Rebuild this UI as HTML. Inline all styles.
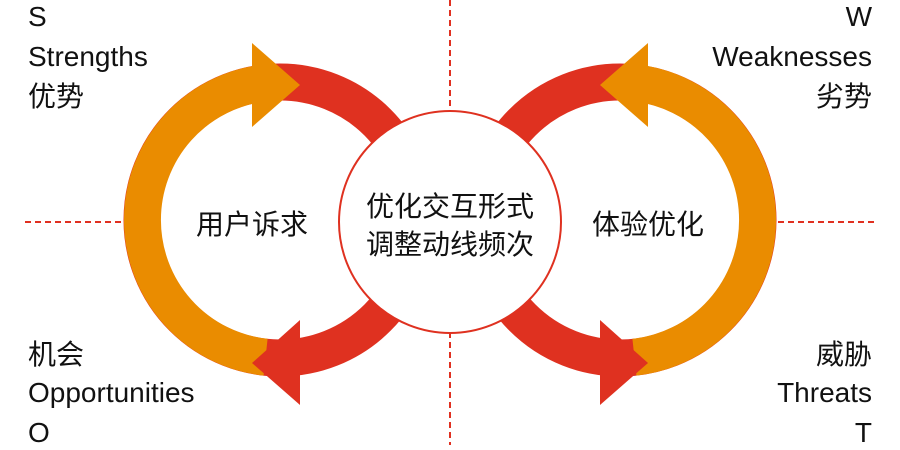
<!DOCTYPE html>
<html><head><meta charset="utf-8"><style>
body{margin:0;width:900px;height:445px;background:#fff;overflow:hidden}
svg text{font-family:"Liberation Sans","Noto Sans CJK SC",sans-serif;fill:#111}
</style></head><body>
<svg width="900" height="445" viewBox="0 0 900 445">
<g stroke="#e03020" stroke-width="2" stroke-dasharray="6,4">
<line x1="450" y1="0" x2="450" y2="112"/>
<line x1="450" y1="332" x2="450" y2="445"/>
<line x1="25" y1="222" x2="122" y2="222"/>
<line x1="778" y1="222" x2="875" y2="222"/>
</g>
<circle cx="280" cy="220" r="138" fill="none" stroke="#df3120" stroke-width="37"/>
<circle cx="620" cy="220" r="138" fill="none" stroke="#df3120" stroke-width="37"/>
<path d="M265.6 82.8 A138 138 0 0 0 265.6 357.2" fill="none" stroke="#ea8c00" stroke-width="37"/>
<path d="M634.4 82.8 A138 138 0 0 1 634.4 357.2" fill="none" stroke="#ea8c00" stroke-width="37"/>
<polygon points="252,43 300,85 252,127" fill="#ea8c00"/>
<polygon points="300,320 252,363 300,405" fill="#df3120"/>
<polygon points="648,43 600,85 648,127" fill="#ea8c00"/>
<polygon points="600,320 648,363 600,405" fill="#df3120"/>
<circle cx="450" cy="222" r="111" fill="#fff" stroke="#df3120" stroke-width="2"/>
<g font-size="28">
<text x="28" y="26">S</text>
<text x="28" y="66">Strengths</text>
<text x="28" y="106">优势</text>
<text x="28" y="364">机会</text>
<text x="28" y="402">Opportunities</text>
<text x="28" y="442">O</text>
<text x="872" y="26" text-anchor="end">W</text>
<text x="872" y="66" text-anchor="end">Weaknesses</text>
<text x="872" y="106" text-anchor="end">劣势</text>
<text x="872" y="364" text-anchor="end">威胁</text>
<text x="872" y="402" text-anchor="end">Threats</text>
<text x="872" y="442" text-anchor="end">T</text>
<text x="252" y="234" text-anchor="middle">用户诉求</text>
<text x="648" y="234" text-anchor="middle">体验优化</text>
<text x="450" y="216" text-anchor="middle">优化交互形式</text>
<text x="450" y="254" text-anchor="middle">调整动线频次</text>
</g>
</svg>
</body></html>
